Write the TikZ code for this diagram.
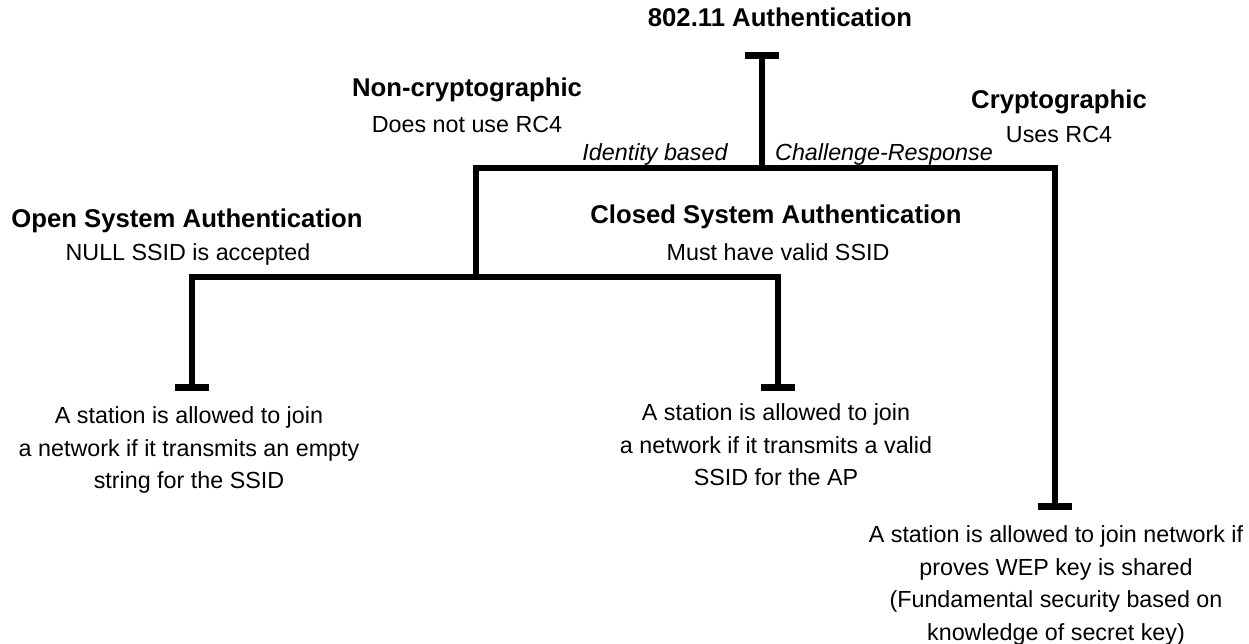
\documentclass[tikz,border=0pt]{standalone}
\usepackage{fontspec}
\setmainfont{Liberation Sans}
\usetikzlibrary{arrows.meta}
\tikzset{
  headlbl/.style={font=\fontsize{25.7}{30}\selectfont\bfseries,inner sep=0pt,anchor=base},
  sublbl/.style={font=\fontsize{23.3}{28}\selectfont,inner sep=0pt,anchor=base},
  edgelbl/.style={font=\fontsize{23.3}{28}\selectfont\itshape,inner sep=0pt,anchor=base},
  desclbl/.style={font=\fontsize{23.3}{32.5}\selectfont,align=center,inner sep=0pt,anchor=north},
  link/.style={line width=5.5pt,line join=miter},
  tbar/.tip={Bar[width=34pt,line width=7pt]},
}

\begin{document}
\begin{tikzpicture}[x=1pt,y=-1pt]
\useasboundingbox (0,0) rectangle (1249,644);
\node[headlbl] (auth) at (780,27) {802.11 Authentication};
\node[headlbl] (noncrypt) at (467,97) {Non-cryptographic};
\node[sublbl] (noncryptsub) at (467,133) {Does not use RC4};
\node[headlbl] (crypt) at (1059,109) {Cryptographic};
\node[sublbl] (cryptsub) at (1059,143) {Uses RC4};
\node[edgelbl] (identity) at (655,161) {Identity based};
\node[edgelbl] (challenge) at (884,161) {Challenge-Response};
\node[headlbl] (opensys) at (187,228) {Open System Authentication};
\node[sublbl] (opensub) at (188,261) {NULL SSID is accepted};
\node[headlbl] (closedsys) at (776,224) {Closed System Authentication};
\node[sublbl] (closedsub) at (778,260) {Must have valid SSID};

% end points of the tree
\coordinate (rootend) at (762,52);
\coordinate (rootfork) at (762,168);
\coordinate (openfork) at (476,277);
\coordinate (cryptcorner) at (1055,168);
\coordinate (cryptend) at (1055,510);
\coordinate (openend) at (192,391);
\coordinate (closedend) at (778,391);

\draw[link,tbar-] (rootend) -- (rootfork);
\draw[link,-tbar] (openfork) |- (cryptcorner) -- (cryptend);
\draw[link,tbar-tbar] (openend) -- (openend |- openfork)
  -- (closedend |- openfork) -- (closedend);

\node[desclbl] (opendesc) at (189,406.5) {A station is allowed to join\\
  a network if it transmits an empty\\ string for the SSID};
\node[desclbl] (closeddesc) at (776,403.5) {A station is allowed to join\\
  a network if it transmits a valid\\ SSID for the AP};
\node[desclbl] (cryptdesc) at (1056,525.5) {A station is allowed to join network if\\
  proves WEP key is shared\\ (Fundamental security based on\\
  knowledge of secret key)};
\end{tikzpicture}
\end{document}
